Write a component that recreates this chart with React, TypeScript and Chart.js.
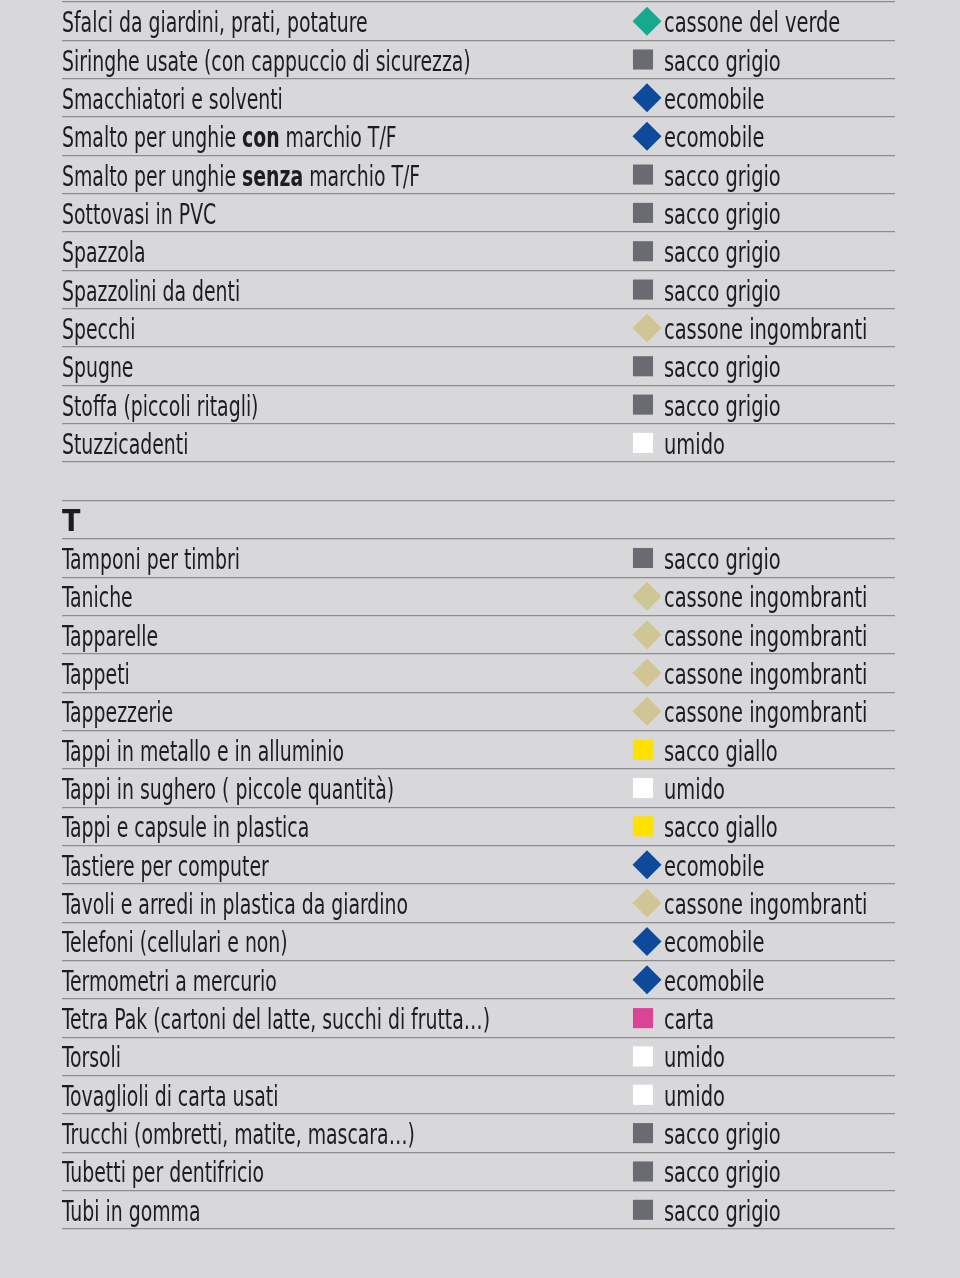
import React, { useEffect, useRef } from 'react';
import { Chart, registerables } from 'chart.js';

Chart.register(...registerables);

// ---- Data ----
const sItems = [
  'Sfalci da giardini, prati, potature',
  'Siringhe usate (con cappuccio di sicurezza)',
  'Smacchiatori e solventi',
  'Smalto per unghie *con* marchio T/F',
  'Smalto per unghie *senza* marchio T/F',
  'Sottovasi in PVC',
  'Spazzola',
  'Spazzolini da denti',
  'Specchi',
  'Spugne',
  'Stoffa (piccoli ritagli)',
  'Stuzzicadenti',
];
const sBins = [
  'cassone del verde',
  'sacco grigio',
  'ecomobile',
  'ecomobile',
  'sacco grigio',
  'sacco grigio',
  'sacco grigio',
  'sacco grigio',
  'cassone ingombranti',
  'sacco grigio',
  'sacco grigio',
  'umido',
];
const tHeader = 'T';
const tItems = [
  'Tamponi per timbri',
  'Taniche',
  'Tapparelle',
  'Tappeti',
  'Tappezzerie',
  'Tappi in metallo e in alluminio',
  'Tappi in sughero ( piccole quantità)',
  'Tappi e capsule in plastica',
  'Tastiere per computer',
  'Tavoli e arredi in plastica da giardino',
  'Telefoni (cellulari e non)',
  'Termometri a mercurio',
  'Tetra Pak (cartoni del latte, succhi di frutta…)',
  'Torsoli',
  'Tovaglioli di carta usati',
  'Trucchi (ombretti, matite, mascara…)',
  'Tubetti per dentifricio',
  'Tubi in gomma',
];
const tBins = [
  'sacco grigio',
  'cassone ingombranti',
  'cassone ingombranti',
  'cassone ingombranti',
  'cassone ingombranti',
  'sacco giallo',
  'umido',
  'sacco giallo',
  'ecomobile',
  'cassone ingombranti',
  'ecomobile',
  'ecomobile',
  'carta',
  'umido',
  'umido',
  'sacco grigio',
  'sacco grigio',
  'sacco grigio',
];

// ---- Styles ----
const binStyles: Record<string, { shape: 'rect' | 'rectRot'; color: string }> = {
  'cassone del verde': { shape: 'rectRot', color: '#17a98e' },
  'sacco grigio': { shape: 'rect', color: '#696a72' },
  'ecomobile': { shape: 'rectRot', color: '#0d4a9c' },
  'cassone ingombranti': { shape: 'rectRot', color: '#d0c594' },
  'sacco giallo': { shape: 'rect', color: '#ffe100' },
  'umido': { shape: 'rect', color: '#ffffff' },
  'carta': { shape: 'rect', color: '#dc4296' },
};

const BG = '#d8d8da';
const LINE = '#8d8d8f';
const TEXT = '#1d1d1f';
const FAMILY = '"DejaVu Sans Condensed", "Liberation Sans Narrow", "Liberation Sans", sans-serif';
const FONT_SIZE = 28;
const REF_STRING = 'Tetra Pak (cartoni del latte, succhi di frutta…)';
const REF_WIDTH = 428;
const BIN_STRETCH = 1.03;

const rowLabels = [...sItems, '', tHeader, ...tItems];
const rowBins = [...sBins, '', '', ...tBins];
const headerRows = [sItems.length + 1];

export default function App() {
  const ref = useRef<HTMLCanvasElement | null>(null);

  useEffect(() => {
    document.body.style.margin = '0';
    document.body.style.background = BG;
    const canvas = ref.current!;

    const points: any[] = [];
    const styles: string[] = [];
    const colors: string[] = [];
    const radii: number[] = [];
    rowBins.forEach((b, i) => {
      if (!b) return;
      const st = binStyles[b];
      points.push({ x: st.shape === 'rect' ? 581 : 585, y: i + 0.5 });
      styles.push(st.shape);
      colors.push(st.color);
      radii.push(st.shape === 'rect' ? 14.2 : 14.5);
    });

    const textPlugin = {
      id: 'rowText',
      beforeDraw(chart: any) {
        const c = chart.ctx;
        c.save();
        c.fillStyle = BG;
        c.fillRect(0, 0, chart.width, chart.height);
        c.restore();
      },
      afterDatasetsDraw(chart: any) {
        const c: CanvasRenderingContext2D = chart.ctx;
        const xs = chart.scales.x;
        const ys = chart.scales.y;
        c.save();
        c.fillStyle = TEXT;
        c.textBaseline = 'alphabetic';
        c.textAlign = 'left';
        c.font = `${FONT_SIZE}px ${FAMILY}`;
        const sx = REF_WIDTH / c.measureText(REF_STRING).width;
        const drawRich = (text: string, x0: number, yb: number, k0: number) => {
          const parts = text.split('*');
          c.save();
          c.translate(x0, yb);
          c.scale(sx * k0, 1);
          let x = 0;
          parts.forEach((p, k) => {
            c.font = `${k % 2 === 1 ? 'bold ' : ''}${FONT_SIZE}px ${FAMILY}`;
            c.fillText(p, x, 0);
            x += c.measureText(p).width;
          });
          c.restore();
        };
        rowLabels.forEach((lab, i) => {
          const yc = ys.getPixelForValue(i + 0.5);
          const yb = yc + 11;
          const xl = xs.getPixelForValue(0);
          if (headerRows.includes(i)) {
            c.font = `bold ${FONT_SIZE + 2}px ${FAMILY}`;
            c.fillText(lab, xl, yb);
          } else if (lab) {
            drawRich(lab, xl, yb, 1);
          }
          const b = rowBins[i];
          if (b) drawRich(b, xs.getPixelForValue(602), yb, BIN_STRETCH);
        });
        c.restore();
      },
    };

    const chart = new Chart(canvas, {
      type: 'scatter',
      data: {
        datasets: [
          {
            data: points,
            pointStyle: styles as any,
            pointBackgroundColor: colors,
            pointBorderWidth: 0,
            pointBorderColor: 'rgba(0,0,0,0)',
            pointRadius: radii,
            pointHoverRadius: radii,
            clip: false as any,
          },
        ],
      },
      options: {
        responsive: false,
        animation: false,
        devicePixelRatio: 1,
        layout: { autoPadding: false, padding: { left: 62, right: 65, top: 2, bottom: 49 } },
        plugins: { legend: { display: false }, tooltip: { enabled: false } },
        events: [],
        scales: {
          x: { type: 'linear', min: 0, max: 833, display: false },
          y: {
            type: 'linear',
            min: 0,
            max: rowLabels.length,
            reverse: true,
            ticks: { display: false, stepSize: 1 },
            grid: { color: LINE, lineWidth: 1.3, drawTicks: false, tickLength: 0 },
            border: { display: false },
          },
        },
      },
      plugins: [textPlugin],
    });
    return () => chart.destroy();
  }, []);

  return (
    <div style={{ width: 960, height: 1278, background: BG }}>
      <canvas ref={ref} width={960} height={1278} style={{ display: 'block' }} />
    </div>
  );
}
